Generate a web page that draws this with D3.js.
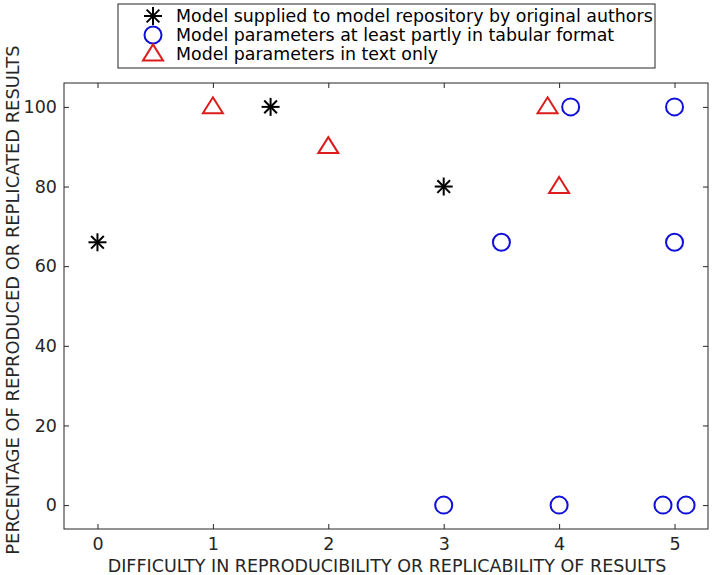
<!DOCTYPE html>
<html>
<head>
<meta charset="utf-8">
<script src="https://cdn.jsdelivr.net/npm/d3@7.9.0/dist/d3.min.js"></script>
<style>
  body { margin: 0; background: #fff; }
  svg { font-family: "DejaVu Sans", sans-serif; }
</style>
</head>
<body>
<svg id="chart" width="714" height="575"></svg>
<script>
// data
const authorsX = [0, 1.5, 3];
const authorsY = [66, 100, 80];
const tabularX = [3, 3.5, 4, 4.1, 4.9, 5, 5, 5.1];
const tabularY = [0, 66, 0, 100, 0, 100, 66, 0];
const textX = [1, 2, 3.9, 4];
const textY = [100, 90, 100, 80];
const xTicks = [0, 1, 2, 3, 4, 5];
const yTicks = [0, 20, 40, 60, 80, 100];
const legendLabels = [
  'Model supplied to model repository by original authors',
  'Model parameters at least partly in tabular format',
  'Model parameters in text only'
];

const margin = {left: 64, right: 6, top: 83, bottom: 46};
const width = 714, height = 575;
const svg = d3.select('#chart');
const axisColor = '#262626';

let x = d3.scaleLinear().domain([-0.29, 5.29]).range([margin.left, width - margin.right]);
let y = d3.scaleLinear().domain([-6, 106]).range([height - margin.bottom, margin.top]);

// box
svg.append('rect')
  .attr('x', margin.left).attr('y', margin.top)
  .attr('width', width - margin.right - margin.left)
  .attr('height', height - margin.bottom - margin.top)
  .attr('fill', 'none').attr('stroke', axisColor).attr('stroke-width', 1);

// axes with inward ticks
let axBottom = svg.append('g').attr('transform', `translate(0,${height - margin.bottom})`)
  .call(d3.axisBottom(x).tickValues(xTicks).tickSize(-5).tickPadding(9).tickFormat(d3.format('d')));
let axTop = svg.append('g').attr('transform', `translate(0,${margin.top})`)
  .call(d3.axisTop(x).tickValues(xTicks).tickSize(-5).tickFormat(''));
let axLeft = svg.append('g').attr('transform', `translate(${margin.left},0)`)
  .call(d3.axisLeft(y).tickValues(yTicks).tickSize(-5).tickPadding(7));
let axRight = svg.append('g').attr('transform', `translate(${width - margin.right},0)`)
  .call(d3.axisRight(y).tickValues(yTicks).tickSize(-5).tickFormat(''));

[axBottom, axTop, axLeft, axRight].forEach(g => {
  g.select('.domain').remove();
  g.selectAll('line').attr('stroke', axisColor);
  g.selectAll('text').attr('fill', axisColor).style('font-size', '17.5px')
    .style('font-family', '"DejaVu Sans", sans-serif');
});

// axis titles
svg.append('text')
  .attr('x', 387)
  .attr('y', 572)
  .attr('text-anchor', 'middle')
  .attr('fill', axisColor)
  .style('font-size', '17.5px')
  .text('DIFFICULTY IN REPRODUCIBILITY OR REPLICABILITY OF RESULTS');

svg.append('text')
  .attr('transform', 'translate(18.5,300) rotate(-90)')
  .attr('text-anchor', 'middle')
  .attr('fill', axisColor)
  .style('font-size', '17.9px')
  .text('PERCENTAGE OF REPRODUCED OR REPLICATED RESULTS');

// marker shapes
function asterisk(g, cx, cy, r) {
  for (let a = 0; a < 4; a++) {
    let ang = a * Math.PI / 4;
    g.append('line')
      .attr('x1', cx - r * Math.cos(ang)).attr('y1', cy - r * Math.sin(ang))
      .attr('x2', cx + r * Math.cos(ang)).attr('y2', cy + r * Math.sin(ang))
      .attr('stroke', '#000').attr('stroke-width', 2);
  }
}
function circle(g, cx, cy) {
  g.append('circle').attr('cx', cx).attr('cy', cy).attr('r', 8.5)
    .attr('fill', 'none').attr('stroke', '#1010d8').attr('stroke-width', 2);
}
function triangle(g, cx, cy) {
  let h = 16, w = 20;
  g.append('path')
    .attr('d', `M${cx},${cy - h * 0.6} L${cx + w / 2},${cy + h * 0.4} L${cx - w / 2},${cy + h * 0.4} Z`)
    .attr('fill', 'none').attr('stroke', '#dd1c1c').attr('stroke-width', 2);
}

let marks = svg.append('g');
authorsX.forEach((d, i) => asterisk(marks, x(d), y(authorsY[i]), 9));
tabularX.forEach((d, i) => circle(marks, x(d), y(tabularY[i])));
textX.forEach((d, i) => triangle(marks, x(d), y(textY[i])));

// legend
let lg = svg.append('g');
lg.append('rect').attr('x', 118).attr('y', 4).attr('width', 537).attr('height', 64)
  .attr('fill', '#fff').attr('stroke', axisColor).attr('stroke-width', 1);
let rowY = [16, 35, 54];
asterisk(lg, 153, rowY[0], 9);
circle(lg, 153, rowY[1]);
triangle(lg, 153, rowY[2]);
legendLabels.forEach((t, i) => {
  lg.append('text').attr('x', 176).attr('y', rowY[i]).attr('dy', '0.35em')
    .attr('fill', '#000').style('font-size', '17.4px').text(t);
});
</script>
</body>
</html>
